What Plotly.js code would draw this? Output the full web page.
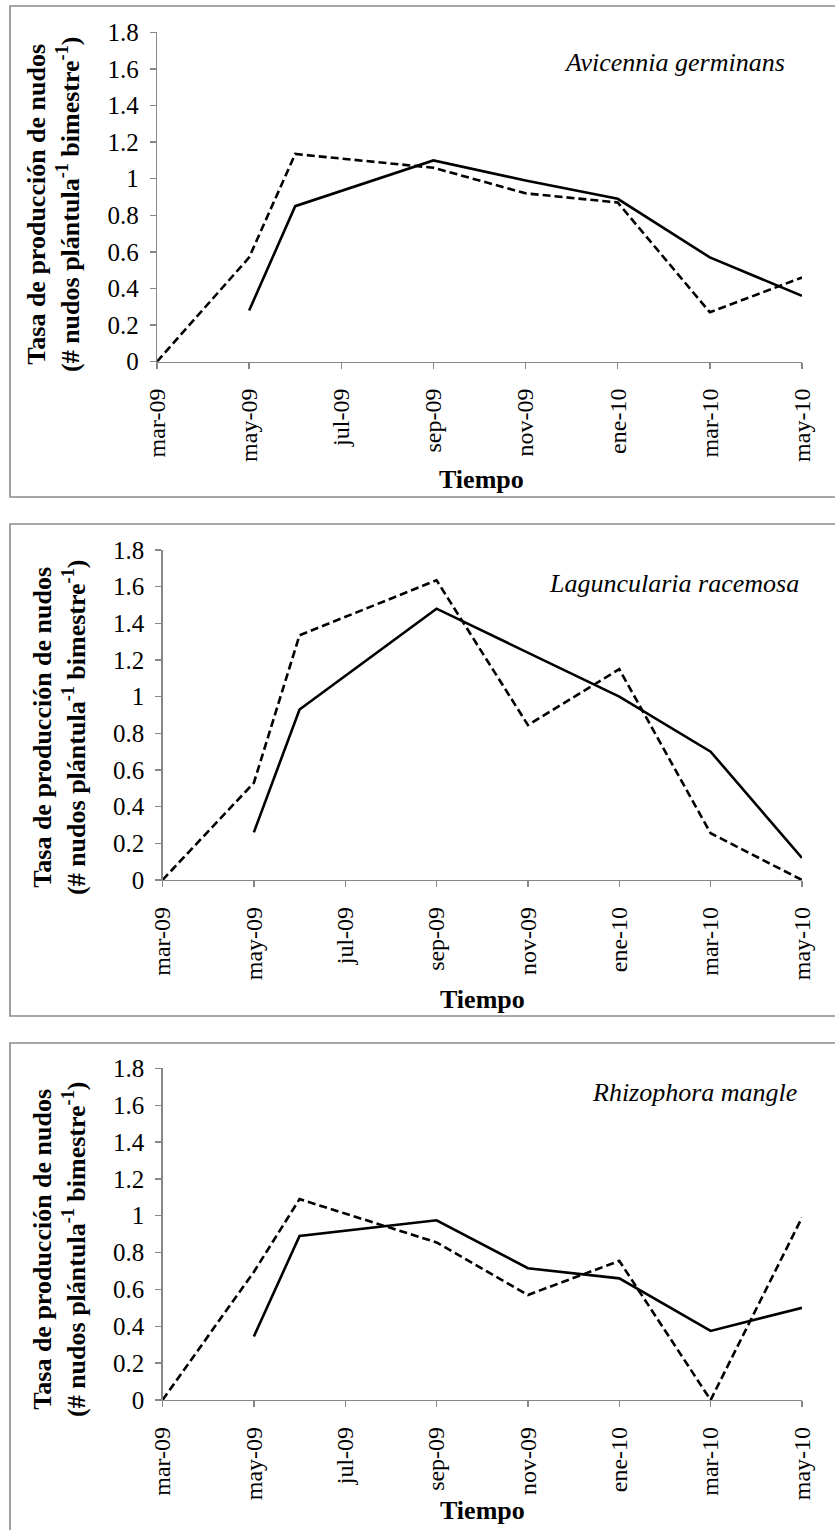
<!DOCTYPE html>
<html>
<head>
<meta charset="utf-8">
<script src="https://cdn.plot.ly/plotly-3.0.1.min.js"></script>
<style>
  html, body { margin: 0; padding: 0; background: #ffffff; }
  #chart { width: 835px; height: 1530px; }
</style>
</head>
<body>
<div id="chart"></div>
<script>
// ---------------- DATA ----------------
var fechas = ['2009-03', '2009-05', '2009-06', '2009-09', '2009-11', '2010-01', '2010-03', '2010-05'];
var tickFechas = ['2009-03', '2009-05', '2009-07', '2009-09', '2009-11', '2010-01', '2010-03', '2010-05'];
var tickLabels = ['mar-09', 'may-09', 'jul-09', 'sep-09', 'nov-09', 'ene-10', 'mar-10', 'may-10'];
var yTickVals = [0, 0.2, 0.4, 0.6, 0.8, 1, 1.2, 1.4, 1.6, 1.8];
var yTickText = ['0', '0.2', '0.4', '0.6', '0.8', '1', '1.2', '1.4', '1.6', '1.8'];

var especies = ['Avicennia germinans', 'Laguncularia racemosa', 'Rhizophora mangle'];

var avicenniaSolida  = [null, 0.28, 0.85, 1.10, 0.99, 0.89, 0.57, 0.36];
var avicenniaGuiones = [0, 0.57, 1.135, 1.06, 0.92, 0.87, 0.27, 0.46];

var lagunculariaSolida  = [null, 0.26, 0.93, 1.48, 1.24, 1.00, 0.70, 0.12];
var lagunculariaGuiones = [0, 0.53, 1.335, 1.635, 0.845, 1.15, 0.255, 0];

var rhizophoraSolida  = [null, 0.345, 0.89, 0.975, 0.715, 0.66, 0.375, 0.50];
var rhizophoraGuiones = [0, 0.695, 1.09, 0.855, 0.57, 0.755, 0, 0.99];

var yTitulo = '<b>Tasa de producción de nudos<br>(# nudos plántula<sup>-1</sup> bimestre<sup>-1</sup>)</b>';
var xTitulo = '<b>Tiempo</b>';

// ---------------- HELPERS ----------------
var W = 835, H = 1530;
function mes(s) { var p = s.split('-'); return (parseInt(p[0], 10) - 2009) * 12 + (parseInt(p[1], 10) - 3); }
function px(x) { return x / W; }
function py(y) { return 1 - y / H; }

var xs = fechas.map(mes);
var xTicks = tickFechas.map(mes);

var FONT = '"Liberation Serif", "Times New Roman", Times, serif';
var AXIS_COLOR = '#878787';

var series = [
  [avicenniaSolida, avicenniaGuiones],
  [lagunculariaSolida, lagunculariaGuiones],
  [rhizophoraSolida, rhizophoraGuiones]
];

// panel geometry in page pixels
var panels = [
  { x0: 157, x1: 802, yTop: 32.3, yBot: 361.7, box: [10, 6, 836, 497], yt: [54, 205], xt: [481, 479], sp: [787, 63] },
  { x0: 162.5, x1: 802, yTop: 550, yBot: 880, box: [10, 524, 836, 1016], yt: [59, 728], xt: [482, 999], sp: [801, 583] },
  { x0: 162.5, x1: 802, yTop: 1068.3, yBot: 1400, box: [10, 1043, 836, 1540], yt: [59, 1250], xt: [482, 1510], sp: [799, 1092] }
];

var data = [];
var layout = {
  width: W, height: H,
  margin: { l: 0, r: 0, t: 0, b: 0, pad: 0 },
  paper_bgcolor: '#ffffff', plot_bgcolor: '#ffffff',
  showlegend: false,
  font: { family: FONT, color: '#000000', size: 24 },
  shapes: [], annotations: []
};

panels.forEach(function (p, i) {
  var n = i === 0 ? '' : String(i + 1);
  var xa = 'x' + n, ya = 'y' + n;
  data.push({
    x: xs, y: series[i][0], xaxis: xa, yaxis: ya, type: 'scatter', mode: 'lines',
    line: { color: '#000000', width: 2.6 }, connectgaps: false, hoverinfo: 'skip'
  });
  data.push({
    x: xs, y: series[i][1], xaxis: xa, yaxis: ya, type: 'scatter', mode: 'lines',
    line: { color: '#000000', width: 2.6, dash: '8px,4px' }, hoverinfo: 'skip'
  });
  layout['xaxis' + n] = {
    anchor: ya, domain: [px(p.x0), px(p.x1)],
    range: [xTicks[0], xTicks[xTicks.length - 1]],
    tickmode: 'array', tickvals: xTicks, ticktext: tickLabels, tickangle: -90,
    showgrid: false, zeroline: false, showline: true, linecolor: AXIS_COLOR, linewidth: 1.3,
    ticks: 'outside', ticklen: 6, tickwidth: 1.3, tickcolor: AXIS_COLOR,
    ticklabelstandoff: 10,
    tickfont: { family: FONT, size: 24, color: '#000000' }, fixedrange: true
  };
  layout['yaxis' + n] = {
    anchor: xa, domain: [py(p.yBot), py(p.yTop)],
    range: [0, 1.8], tickmode: 'array', tickvals: yTickVals, ticktext: yTickText,
    showgrid: false, zeroline: false, showline: true, linecolor: AXIS_COLOR, linewidth: 1.3,
    ticks: 'outside', ticklen: 6, tickwidth: 1.3, tickcolor: AXIS_COLOR,
    ticklabelstandoff: 6,
    tickfont: { family: FONT, size: 25, color: '#000000' }, fixedrange: true
  };
  layout.shapes.push({
    type: 'rect', xref: 'paper', yref: 'paper',
    x0: px(p.box[0]), x1: px(p.box[2]), y0: py(p.box[3]), y1: py(p.box[1]),
    line: { color: '#8a8a8a', width: 1.6 }, fillcolor: 'rgba(0,0,0,0)', layer: 'below'
  });
  layout.annotations.push({
    xref: 'paper', yref: 'paper', x: px(p.yt[0]), y: py(p.yt[1]),
    xanchor: 'center', yanchor: 'middle', textangle: -90, showarrow: false,
    text: yTitulo, font: { family: FONT, size: 26, color: '#000000' }
  });
  layout.annotations.push({
    xref: 'paper', yref: 'paper', x: px(p.xt[0]), y: py(p.xt[1]),
    xanchor: 'center', yanchor: 'middle', showarrow: false,
    text: xTitulo, font: { family: FONT, size: 26, color: '#000000' }
  });
  layout.annotations.push({
    xref: 'paper', yref: 'paper', x: px(p.sp[0]), y: py(p.sp[1]),
    xanchor: 'right', yanchor: 'middle', showarrow: false,
    text: '<i>' + especies[i] + '</i>', font: { family: FONT, size: 26, color: '#000000' }
  });
});

Plotly.newPlot('chart', data, layout, { displayModeBar: false, staticPlot: true });
</script>
</body>
</html>
